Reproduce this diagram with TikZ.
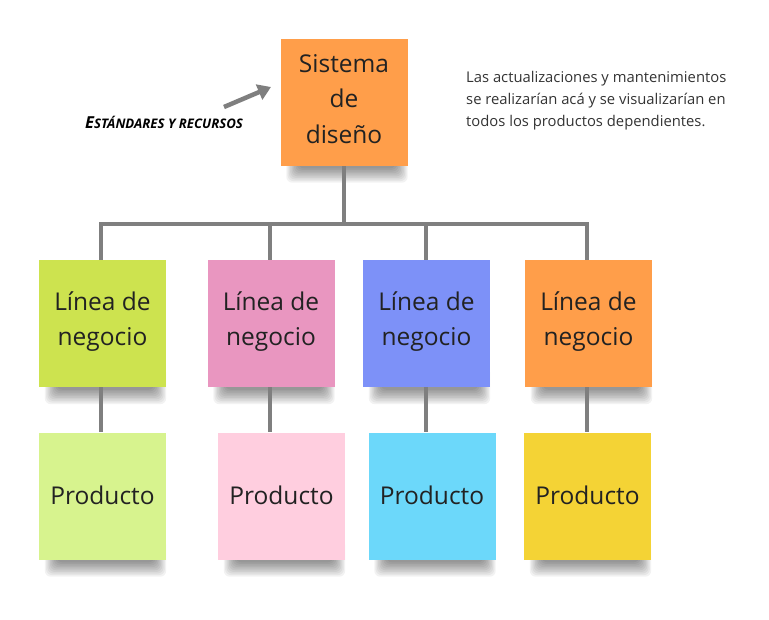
\documentclass[tikz,border=0pt]{standalone}
\usepackage{fontspec}
\setmainfont{Open Sans}
\usetikzlibrary{arrows.meta,backgrounds}
\pgfdeclarelayer{shadowlayer}
\pgfsetlayers{shadowlayer,background,main}
\definecolor{sysorange}{HTML}{FF9E4A}
\definecolor{lgreen}{HTML}{CDE34F}
\definecolor{lpink}{HTML}{E996C0}
\definecolor{lblue}{HTML}{7D91F8}
\definecolor{lorange}{HTML}{FF9E4A}
\definecolor{pgreen}{HTML}{D7F38E}
\definecolor{ppink}{HTML}{FFCEDF}
\definecolor{pblue}{HTML}{6CD8FA}
\definecolor{pyellow}{HTML}{F4D335}
\definecolor{connector}{HTML}{7F7F7F}
\definecolor{stickytext}{HTML}{222222}
\definecolor{notetext}{HTML}{333333}
\tikzset{
  sticky/.style={minimum width=127pt, minimum height=127pt, inner sep=0pt,
    align=center, text=stickytext, font=\fontsize{24.5}{35.5}\selectfont},
  link/.style={draw=connector, line width=3.5pt},
  note/.style={align=left, anchor=north west, text=notetext, inner sep=0pt,
    font=\fontsize{14.8}{22}\selectfont},
  hint/.style={draw=connector, line width=4.5pt, -{Triangle[length=13pt,width=16pt]}},
  shadowpiece/.style={fill=black, fill opacity=0.05, rounded corners=6pt}
}
\newcommand{\stickyshadow}[1]{%
  \foreach \k in {0,...,9}{%
    \fill[shadowpiece] ([xshift={(6+1.3*\k)*1pt}, yshift={(-17+1.6*\k)*1pt}]#1.south west)
      rectangle ([xshift={(0-1.3*\k)*1pt}, yshift=20pt]#1.south east);
  }}
\newcommand{\lift}[2]{\raisebox{#1}[\height][\depth]{#2}}
\begin{document}
\begin{tikzpicture}[x=1pt,y=1pt]
\useasboundingbox (0,0) rectangle (769,-619);
% stickies
\node[sticky, fill=sysorange] (sys) at (344,-102) {\lift{3pt}{\parbox{120pt}{\centering Sistema\\de\\diseño}}};
\node[sticky, fill=lgreen]  (l1) at (102.5,-323.5) {\lift{2pt}{\parbox{120pt}{\centering Línea de\\negocio}}};
\node[sticky, fill=lpink]   (l2) at (271,-323.5) {\lift{2pt}{\parbox{120pt}{\centering Línea de\\negocio}}};
\node[sticky, fill=lblue]   (l3) at (426.5,-323.5) {\lift{2pt}{\parbox{120pt}{\centering Línea de\\negocio}}};
\node[sticky, fill=lorange] (l4) at (588.5,-323.5) {\lift{2pt}{\parbox{120pt}{\centering Línea de\\negocio}}};
\node[sticky, fill=pgreen]  (p1) at (102.5,-496) {\lift{1pt}{Producto}};
\node[sticky, fill=ppink]   (p2) at (281.5,-496) {\lift{1pt}{Producto}};
\node[sticky, fill=pblue]   (p3) at (432,-496) {\lift{1pt}{Producto}};
\node[sticky, fill=pyellow] (p4) at (587.5,-496) {\lift{1pt}{Producto}};
\begin{pgfonlayer}{shadowlayer}
\foreach \n in {sys,l1,l2,l3,l4,p1,p2,p3,p4}{\stickyshadow{\n}}
\end{pgfonlayer}
% junctions
\coordinate (hub) at (344,-224);
\coordinate (j1) at (101,-224);
\coordinate (j2) at (270,-224);
\coordinate (j3) at (426,-224);
\coordinate (j4) at (587,-224);
\begin{scope}[on background layer]
\draw[link] (sys.south) -- (hub);
\draw[link, line cap=rect] (j1) -- (j4);
\draw[link] (j1) -- (j1 |- l1.north);
\draw[link] (j2) -- (j2 |- l2.north);
\draw[link] (j3) -- (j3 |- l3.north);
\draw[link] (j4) -- (j4 |- l4.north);
\draw[link] (j1 |- l1.south) -- (j1 |- p1.north);
\draw[link] (j2 |- l2.south) -- (j2 |- p2.north);
\draw[link] (j3 |- l3.south) -- (j3 |- p3.north);
\draw[link] (j4 |- l4.south) -- (j4 |- p4.north);
\end{scope}
% annotation
\node[note] (txt) at (466,-71) {Las actualizaciones y mantenimientos\\se realizarían acá y se visualizarían en\\todos los productos dependientes.};
\coordinate (as) at (224,-107);
\coordinate (ae) at (271,-87);
\draw[hint] (as) -- (ae);
\node[inner sep=0pt, anchor=base west, font=\bfseries\itshape] (lbl) at (85,-128)
  {{\fontsize{16.5}{17}\selectfont E}{\fontsize{13.2}{15}\selectfont STÁNDARES Y RECURSOS}};
\end{tikzpicture}
\end{document}
